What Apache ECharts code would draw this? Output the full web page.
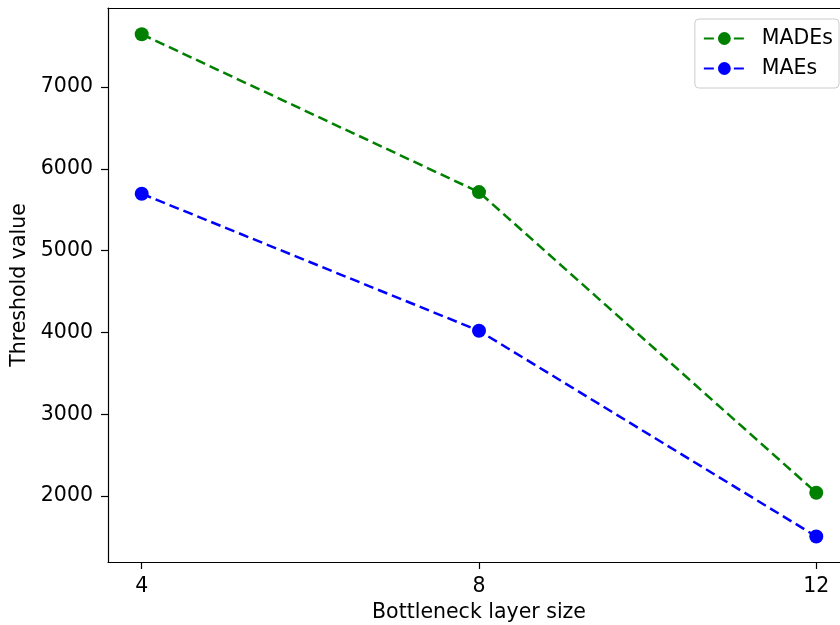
<!DOCTYPE html>
<html>
<head>
<meta charset="utf-8">
<script src="https://cdn.jsdelivr.net/npm/echarts@6/dist/echarts.min.js"></script>
<style>html,body{margin:0;padding:0;background:#fff}#c{width:840px;height:625px}</style>
</head>
<body>
<div id="c"></div>
<script>
const bottleneckSizes = [4, 8, 12];
const madesValues = [7645, 5715, 2040];
const maesValues = [5695, 4020, 1505];
const xTickValues = [4, 8, 12];
const yTickValues = [2000, 3000, 4000, 5000, 6000, 7000];
const seriesNames = ['MADEs', 'MAEs'];
const xAxisTitle = 'Bottleneck layer size';
const yAxisTitle = 'Threshold value';

const font = 'DejaVu Sans';
const fs = 20.5;
const chart = echarts.init(document.getElementById('c'));
const pairs = (xs, ys) => xs.map((x, i) => [x, ys[i]]);
function mkSeries(name, data, color) {
  return {
    name, type: 'line', data,
    symbol: 'circle', symbolSize: 14,
    itemStyle: { color },
    lineStyle: { color, width: 2.5, type: [10, 5] },
    emphasis: { disabled: true },
    animation: false
  };
}
const lineStyleAxis = { color: '#000', width: 1.2 };
chart.setOption({
  animation: false,
  grid: { left: 108, top: 8, width: 742, height: 554, show: false, outerBoundsMode: 'none', containLabel: false },
  legend: {
    orient: 'vertical', right: 1, top: 19,
    itemWidth: 41, itemHeight: 16, itemGap: 9,
    padding: [9, 6, 9, 8],
    borderColor: '#cccccc', borderWidth: 1, borderRadius: 4,
    backgroundColor: '#fff',
    textStyle: { fontFamily: font, fontSize: fs, color: '#000', padding: [0, 0, 0, 12] },
    data: seriesNames
  },
  xAxis: [{
    type: 'value', min: 3.6, max: 12.4,
    name: xAxisTitle, nameLocation: 'middle', nameGap: 38,
    nameTextStyle: { fontFamily: font, fontSize: fs, color: '#000' },
    axisLine: { show: true, lineStyle: lineStyleAxis },
    axisTick: { show: true, length: 7, lineStyle: lineStyleAxis, customValues: xTickValues },
    axisLabel: { fontFamily: font, fontSize: fs, color: '#000', margin: 14, customValues: xTickValues, formatter: v => String(v) },
    splitLine: { show: false }
  }, {
    type: 'value', position: 'top', min: 3.6, max: 12.4,
    axisLine: { show: true, onZero: false, lineStyle: lineStyleAxis },
    axisTick: { show: false }, axisLabel: { show: false }, splitLine: { show: false }
  }],
  yAxis: {
    type: 'value', min: 1193, max: 7966,
    name: yAxisTitle, nameLocation: 'middle', nameGap: 74, nameRotate: 90,
    nameTextStyle: { fontFamily: font, fontSize: fs, color: '#000' },
    axisLine: { show: true, lineStyle: lineStyleAxis },
    axisTick: { show: true, length: 7, lineStyle: lineStyleAxis, customValues: yTickValues },
    axisLabel: { fontFamily: font, fontSize: fs, color: '#000', margin: 15, customValues: yTickValues, formatter: v => String(v) },
    splitLine: { show: false }
  },
  series: [
    mkSeries(seriesNames[0], pairs(bottleneckSizes, madesValues), '#008000'),
    mkSeries(seriesNames[1], pairs(bottleneckSizes, maesValues), '#0000ff')
  ]
});
</script>
</body>
</html>
